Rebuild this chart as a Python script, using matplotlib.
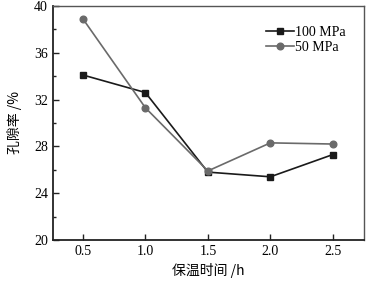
import matplotlib.pyplot as plt
from matplotlib.ticker import MultipleLocator

hold_time = [0.5, 1.0, 1.5, 2.0, 2.5]
porosity_100 = [34.1, 32.6, 25.8, 25.4, 27.3]
porosity_50 = [38.9, 31.3, 25.9, 28.3, 28.2]
x_ticks = [0.5, 1.0, 1.5, 2.0, 2.5]
y_ticks = [20, 24, 28, 32, 36, 40]

plt.rcParams['font.family'] = ['Liberation Serif', 'Noto Sans CJK SC']

fig = plt.figure(figsize=(3.7, 2.84), dpi=100)
ax = fig.add_axes([0.143, 0.155, 0.841, 0.824])

ax.plot(hold_time, porosity_100, color='#1a1a1a', marker='s', markersize=4.2,
        linewidth=1.2, label='100 MPa')
ax.plot(hold_time, porosity_50, color='#6a6a6a', marker='o', markersize=4.8,
        linewidth=1.2, label='50 MPa')

ax.set_xlim(0.26, 2.75)
ax.set_ylim(20, 40)
ax.set_xticks(x_ticks)
ax.set_xticklabels([f'{v:.1f}' for v in x_ticks])
ax.set_yticks(y_ticks)
ax.yaxis.set_minor_locator(MultipleLocator(2))
ax.tick_params(direction='in', labelsize=10, length=4, width=1, color='#222222')
ax.tick_params(which='minor', direction='in', length=2.5, width=1, color='#222222')

for side in ['left', 'bottom']:
    ax.spines[side].set_linewidth(1.3)
    ax.spines[side].set_color('#222222')
for side in ['top', 'right']:
    ax.spines[side].set_linewidth(1.0)
    ax.spines[side].set_color('#555555')

ax.set_xlabel('保温时间 /h', fontsize=10, family=['Noto Sans CJK SC', 'Liberation Serif'], labelpad=4)
ax.set_ylabel('孔隙率 /%', fontsize=10, family=['Noto Sans CJK SC', 'Liberation Serif'], labelpad=9)

ax.legend(loc='upper right', frameon=False, fontsize=10, handlelength=2.0,
          handletextpad=0.1, labelspacing=0.1, borderaxespad=0.8,
          bbox_to_anchor=(0.995, 0.985))

fig.savefig('out.png', dpi=100)
